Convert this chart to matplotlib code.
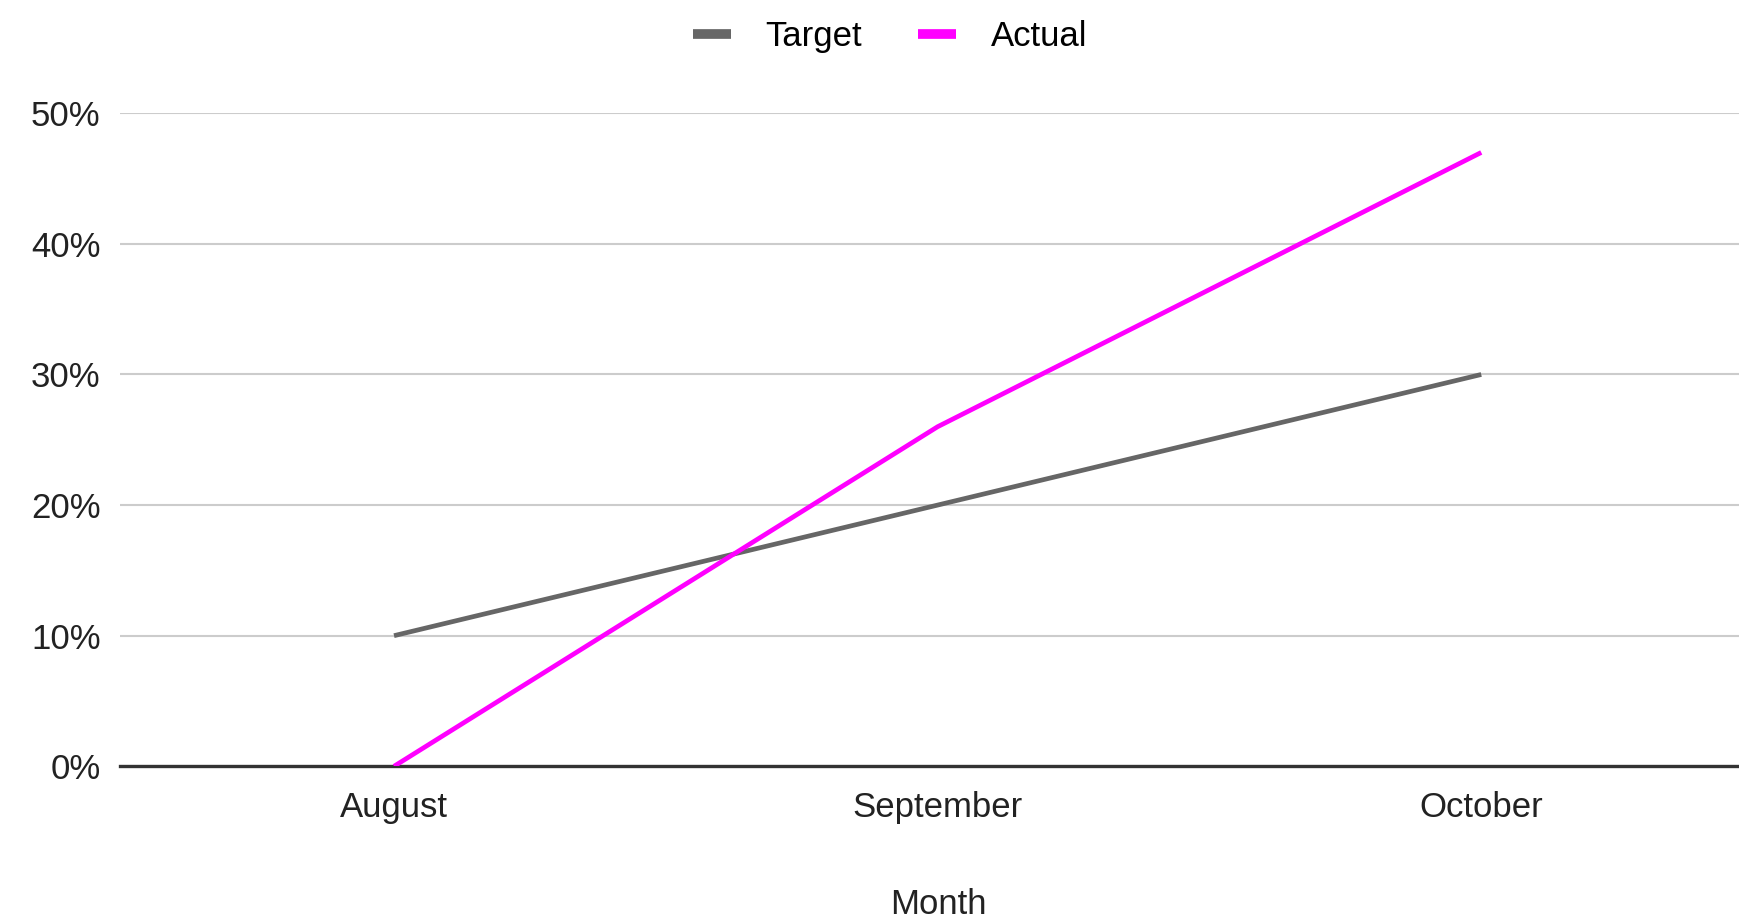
import matplotlib
matplotlib.use("Agg")
import matplotlib.pyplot as plt
from matplotlib.ticker import FuncFormatter

months = ["August", "September", "October"]
target = [0.10, 0.20, 0.30]
actual = [0.00, 0.26, 0.47]
yticks = [0.0, 0.1, 0.2, 0.3, 0.4, 0.5]

plt.rcParams['font.family'] = ['Liberation Sans', 'DejaVu Sans']

fig = plt.figure(figsize=(17.4, 9.21), dpi=100)
ax = fig.add_axes([0.069, 0.168, 0.931, 0.709])

x = list(range(len(months)))
ax.plot(x, target, color="#666666", lw=3.4, label="Target", solid_capstyle="butt", zorder=3)
ax.plot(x, actual, color="#ff00ff", lw=3.4, label="Actual", solid_capstyle="butt", zorder=4)

ax.set_xlim(-0.504, 2.476)
ax.set_ylim(0, 0.5)
ax.set_yticks(yticks)
ax.yaxis.set_major_formatter(FuncFormatter(lambda v, p: f"{v*100:.0f}%"))
ax.set_xticks(x)
ax.set_xticklabels(months)
ax.grid(axis="y", color="#cccccc", lw=1.5, zorder=0)
ax.axhline(0, color="#333333", lw=2.4, zorder=2, clip_on=False)
for s in ax.spines.values():
    s.set_visible(False)
ax.tick_params(axis="both", length=0, labelsize=25, colors="#222222")
ax.tick_params(axis="x", pad=18)
ax.tick_params(axis="y", pad=14)
ax.set_xlabel("Month", fontsize=25, color="#222222", labelpad=46)
ax.xaxis.label.set_x(0.505)

fig.legend(loc="upper center", bbox_to_anchor=(0.5115, 1.012), ncol=2, frameon=False,
           fontsize=25, handlelength=1.1, handletextpad=1.0, columnspacing=1.6)
for h in fig.legends[0].get_lines():
    h.set_linewidth(7)

fig.savefig("out.png", dpi=100, facecolor="white")
